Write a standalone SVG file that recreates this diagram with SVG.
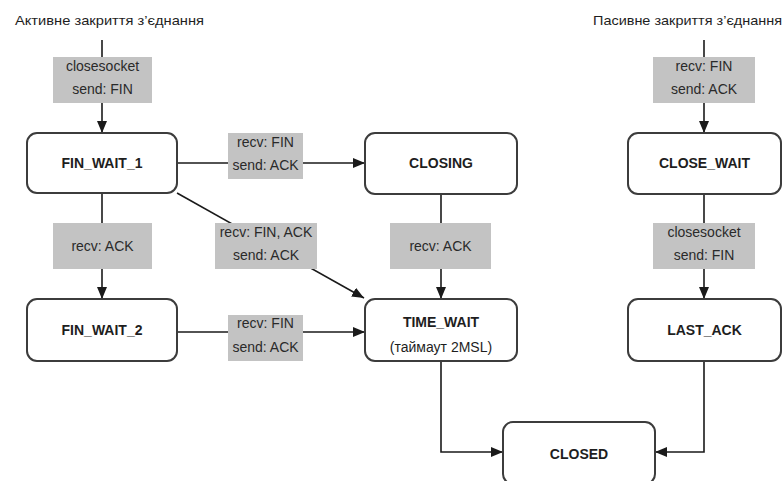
<svg xmlns="http://www.w3.org/2000/svg" width="783" height="481" viewBox="0 0 783 481">
  <style>
    .node rect { fill: #ffffff; stroke: #3c3c3c; stroke-width: 2; }
    .node text { font-family: "Liberation Sans", Arial, sans-serif; font-size: 14px; font-weight: bold; fill: #1e1e1e; text-anchor: middle; }
    .node text.sub { font-weight: normal; }
    .edge { fill: none; stroke: #1a1a1a; stroke-width: 1.6; }
    .tag rect { fill: #c3c3c3; }
    .tag text { font-family: "Liberation Sans", Arial, sans-serif; font-size: 14px; fill: #2a2a2a; text-anchor: middle; }
    .title { font-family: "Liberation Sans", Arial, sans-serif; font-size: 13px; fill: #1e1e1e; }
  </style>
  <defs>
    <marker id="arrow" markerUnits="userSpaceOnUse" markerWidth="12" markerHeight="10" viewBox="0 0 12 10" refX="12" refY="5" orient="auto">
      <path d="M0,0 L12,5 L0,10 Z" fill="#1a1a1a"/>
    </marker>
  </defs>

  <rect width="783" height="481" fill="#ffffff"/>

  <!-- headings -->
  <text class="title" x="15" y="25" textLength="189" lengthAdjust="spacingAndGlyphs">Активне закриття з’єднання</text>
  <text class="title" x="593" y="25" textLength="189" lengthAdjust="spacingAndGlyphs">Пасивне закриття з’єднання</text>

  <!-- transitions -->
  <g id="connectors">
    <line class="edge" x1="102" y1="40" x2="102" y2="133" marker-end="url(#arrow)"/>
    <line class="edge" x1="177" y1="163" x2="365" y2="163" marker-end="url(#arrow)"/>
    <line class="edge" x1="177" y1="193" x2="364" y2="298" marker-end="url(#arrow)"/>
    <line class="edge" x1="102" y1="193" x2="102" y2="299" marker-end="url(#arrow)"/>
    <line class="edge" x1="441" y1="194" x2="441" y2="299" marker-end="url(#arrow)"/>
    <line class="edge" x1="177" y1="332" x2="365" y2="332" marker-end="url(#arrow)"/>
    <polyline class="edge" points="441,361 441,452 503,452" marker-end="url(#arrow)"/>
    <line class="edge" x1="704" y1="40" x2="704" y2="133" marker-end="url(#arrow)"/>
    <line class="edge" x1="704" y1="194" x2="704" y2="299" marker-end="url(#arrow)"/>
    <polyline class="edge" points="704,361 704,452 655,452" marker-end="url(#arrow)"/>

    <g class="tag">
      <rect x="53" y="57" width="99" height="46"/>
      <text x="102.5" y="71">closesocket</text>
      <text x="102.5" y="94">send: FIN</text>
    </g>
    <g class="tag">
      <rect x="228" y="133" width="75" height="46"/>
      <text x="265.5" y="147">recv: FIN</text>
      <text x="265.5" y="170">send: ACK</text>
    </g>
    <g class="tag">
      <rect x="215" y="223" width="102" height="46"/>
      <text x="266" y="237">recv: FIN, ACK</text>
      <text x="266" y="260">send: ACK</text>
    </g>
    <g class="tag">
      <rect x="53" y="223" width="99" height="46"/>
      <text x="102.5" y="251">recv: ACK</text>
    </g>
    <g class="tag">
      <rect x="390" y="223" width="101" height="46"/>
      <text x="440.5" y="251">recv: ACK</text>
    </g>
    <g class="tag">
      <rect x="228" y="315" width="75" height="46"/>
      <text x="265.5" y="328">recv: FIN</text>
      <text x="265.5" y="352">send: ACK</text>
    </g>
    <g class="tag">
      <rect x="653" y="57" width="102" height="46"/>
      <text x="704" y="71">recv: FIN</text>
      <text x="704" y="94">send: ACK</text>
    </g>
    <g class="tag">
      <rect x="653" y="223" width="102" height="46"/>
      <text x="704" y="237">closesocket</text>
      <text x="704" y="260">send: FIN</text>
    </g>
  </g>

  <!-- states -->
  <g id="fin-wait-1" class="node">
    <rect x="27" y="133" width="150" height="60" rx="10"/>
    <text x="102" y="168">FIN_WAIT_1</text>
  </g>
  <g id="closing" class="node">
    <rect x="365" y="133" width="152" height="61" rx="10"/>
    <text x="441" y="168">CLOSING</text>
  </g>
  <g id="fin-wait-2" class="node">
    <rect x="27" y="299" width="150" height="62" rx="10"/>
    <text x="102" y="335">FIN_WAIT_2</text>
  </g>
  <g id="time-wait" class="node">
    <rect x="365" y="299" width="152" height="62" rx="10"/>
    <text x="441" y="327">TIME_WAIT</text>
    <text class="sub" x="441" y="352">(таймаут 2MSL)</text>
  </g>
  <g id="close-wait" class="node">
    <rect x="628" y="133" width="153" height="61" rx="10"/>
    <text x="704.5" y="168">CLOSE_WAIT</text>
  </g>
  <g id="last-ack" class="node">
    <rect x="628" y="299" width="153" height="62" rx="10"/>
    <text x="704.5" y="335">LAST_ACK</text>
  </g>
  <g id="closed" class="node">
    <rect x="503" y="422" width="152" height="62" rx="10"/>
    <text x="579" y="459">CLOSED</text>
  </g>
</svg>
